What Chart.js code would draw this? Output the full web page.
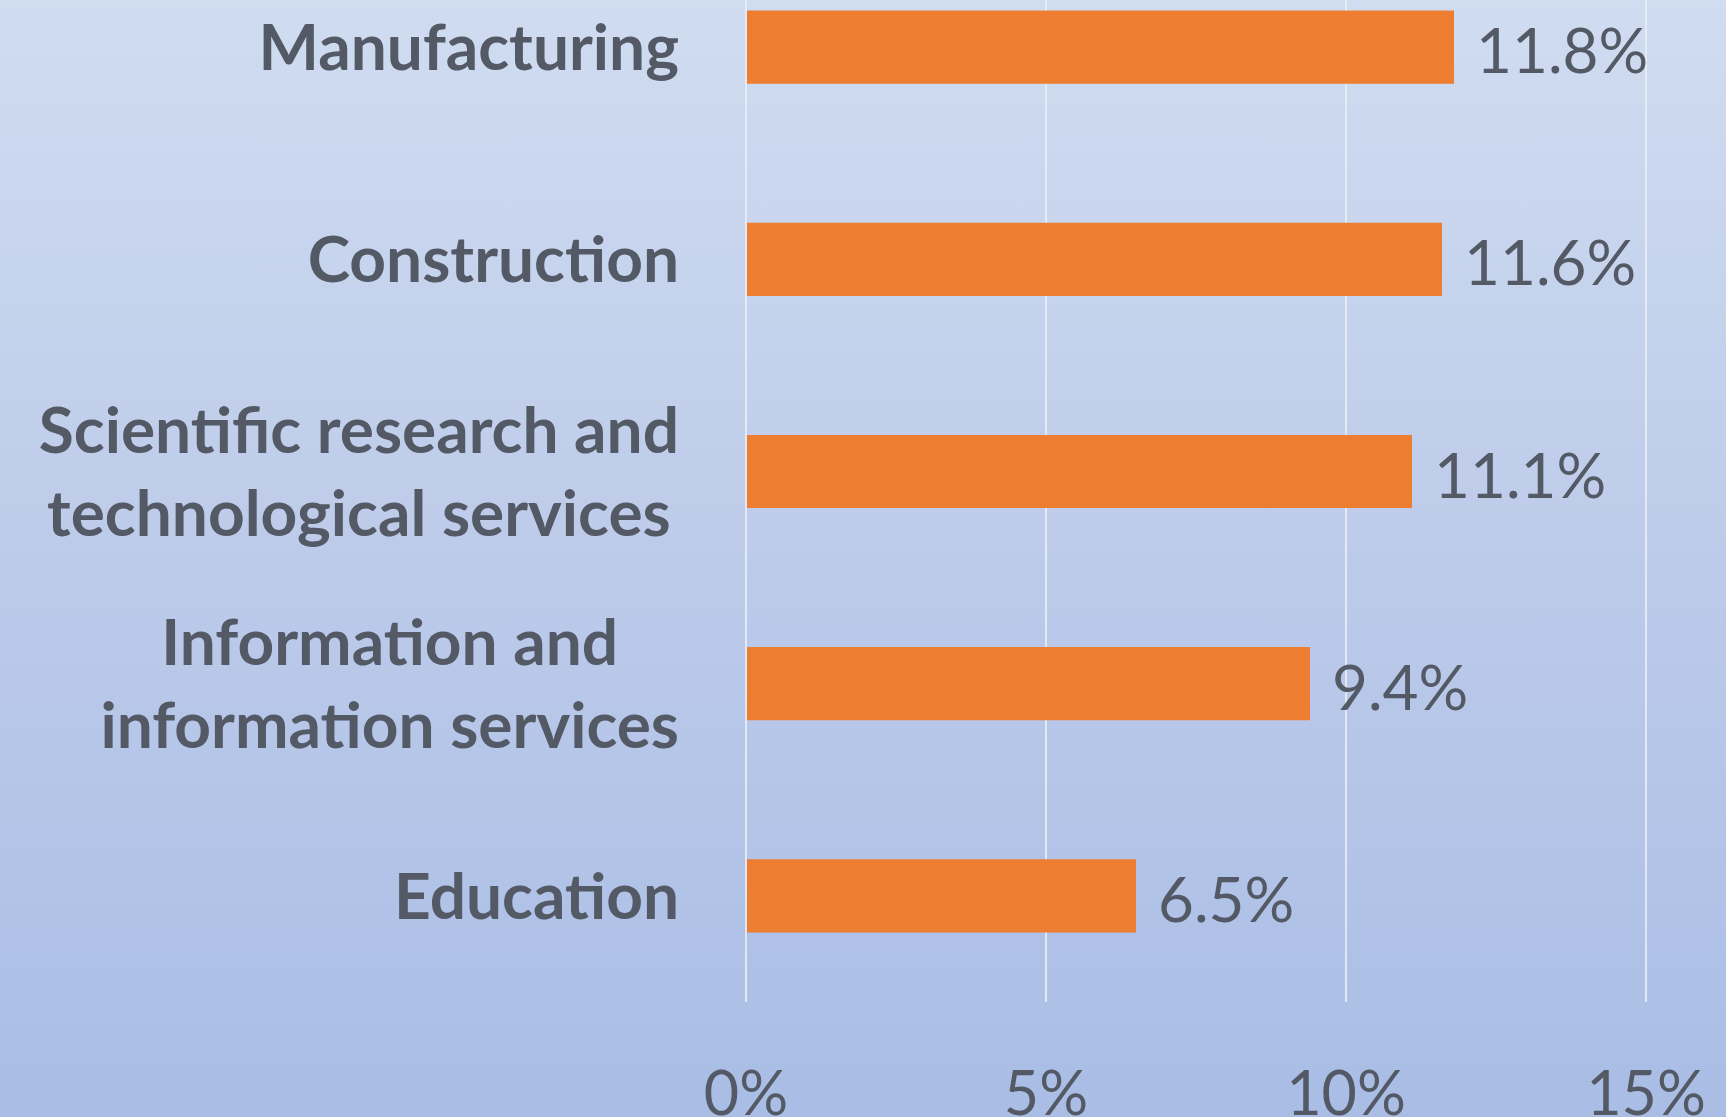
<!DOCTYPE html>
<html>
<head>
<meta charset="utf-8">
<script src="https://cdn.jsdelivr.net/npm/chart.js@4"></script>
<style>
  html, body { margin: 0; padding: 0; width: 1726px; height: 1117px; overflow: hidden; }
  body { background: linear-gradient(180deg, #d0dcf0 0%, #bdcbea 50%, #a9bde5 100%); position: relative; }
  #wrap { position: absolute; left: 0; top: -59px; width: 1726px; height: 1176px; }
</style>
</head>
<body>
<div id="wrap"><canvas id="chart"></canvas></div>
<script>
const categories = [
  ["Manufacturing"],
  ["Construction"],
  ["Scientific research and", "technological services"],
  ["Information and", "information services"],
  ["Education"]
];
const shares = [11.8, 11.6, 11.1, 9.4, 6.5];
const xTicks = [0, 5, 10, 15];

const textColor = "#535965";
const font = "Lato";

// category labels: lines centred in their block, block right-aligned
const catLabels = {
  id: "catLabels",
  afterDraw(chart) {
    const c = chart.ctx;
    const y = chart.scales.y;
    const right = chart.chartArea.left - 67;
    c.save();
    c.font = "bold 64px " + font;
    c.fillStyle = textColor;
    c.textAlign = "center";
    c.textBaseline = "alphabetic";
    const capH = c.measureText("H").actualBoundingBoxAscent;
    const lineGap = 83;
    categories.forEach((lines, i) => {
      const mid = y.getPixelForTick(i);
      const w = Math.max(...lines.map(l => c.measureText(l).width));
      const cx = right - w / 2;
      lines.forEach((l, j) => {
        const base = mid + capH / 2 + (j - (lines.length - 1) / 2) * lineGap;
        c.fillText(l, cx, base);
      });
    });
    c.restore();
  }
};

const valueLabels = {
  id: "valueLabels",
  afterDatasetsDraw(chart) {
    const c = chart.ctx;
    const meta = chart.getDatasetMeta(0);
    c.save();
    c.font = "62px " + font;
    c.fillStyle = textColor;
    c.textAlign = "left";
    c.textBaseline = "middle";
    meta.data.forEach((bar, i) => {
      c.fillText(shares[i].toFixed(1) + "%", bar.x + 22, bar.y + 6);
    });
    c.restore();
  }
};

new Chart(document.getElementById("chart"), {
  type: "bar",
  data: {
    labels: categories.map(l => l.join(" ")),
    datasets: [{
      data: shares,
      backgroundColor: "#ed7d31",
      borderWidth: 0,
      barPercentage: 0.345,
      categoryPercentage: 1
    }]
  },
  options: {
    indexAxis: "y",
    responsive: true,
    maintainAspectRatio: false,
    animation: false,
    layout: { padding: { left: 0, right: 80, top: 0, bottom: 0 } },
    plugins: { legend: { display: false }, tooltip: { enabled: false } },
    scales: {
      x: {
        min: 0,
        max: 15,
        afterBuildTicks: s => { s.ticks = xTicks.map(v => ({ value: v })); },
        afterFit: s => { s.height = 115; s.paddingLeft = 0; s.paddingRight = 0; },
        grid: { color: "rgba(232,236,244,0.9)", lineWidth: 2, drawTicks: false },
        border: { display: false },
        ticks: {
          padding: 57,
          color: textColor,
          font: { family: font, size: 61 },
          callback: v => v + "%"
        }
      },
      y: {
        afterFit: s => { s.width = 746; },
        grid: { display: false },
        border: { display: false },
        ticks: { display: false }
      }
    }
  },
  plugins: [catLabels, valueLabels]
});
</script>
</body>
</html>
